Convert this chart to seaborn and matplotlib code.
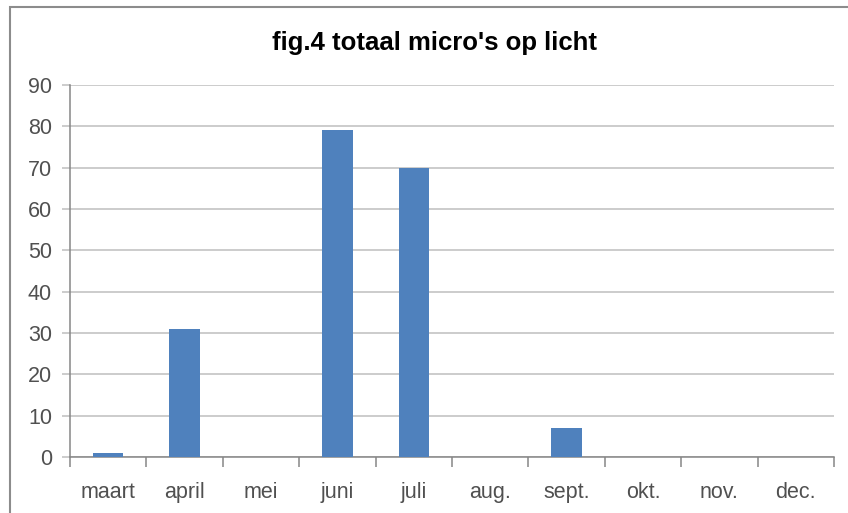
import matplotlib
matplotlib.use("Agg")
import matplotlib.pyplot as plt
import matplotlib.patches as patches
import seaborn as sns
import pandas as pd
import numpy as np

# data
months = ['maart', 'april', 'mei', 'juni', 'juli', 'aug.', 'sept.', 'okt.', 'nov.', 'dec.']
counts = [1, 31, 0, 79, 70, 0, 7, 0, 0, 0]
y_ticks = [0, 10, 20, 30, 40, 50, 60, 70, 80, 90]
title = "fig.4 totaal micro's op licht"

sns.set_style("white")
plt.rcParams['font.family'] = ['Liberation Sans', 'DejaVu Sans']

df = pd.DataFrame({'maand': months, 'aantal': counts})

fig = plt.figure(figsize=(8.48, 5.13), dpi=100)
ax = fig.add_axes([70 / 848, 1 - 457 / 513, (834 - 70) / 848, (457 - 85) / 513])

sns.barplot(data=df, x='maand', y='aantal', color='#4F81BD', saturation=1,
            width=0.4, linewidth=0, ax=ax, zorder=3)

ax.set_xlim(-0.5, len(months) - 0.5)
ax.set_ylim(0, 90)
ax.set_yticks(y_ticks)
ax.set_xlabel('')
ax.set_ylabel('')

# gridlines and axes like Excel
ax.yaxis.grid(True, color='#BFBFBF', linewidth=1.1, zorder=0)
ax.set_axisbelow(True)
for side in ['top', 'right']:
    ax.spines[side].set_visible(False)
ax.spines['left'].set_color('#868686')
ax.spines['bottom'].set_color('#868686')
ax.spines['left'].set_linewidth(1.1)
ax.spines['bottom'].set_linewidth(1.1)

# category ticks sit between the bars
ax.set_xticks(np.arange(len(months) + 1) - 0.5, minor=True)
ax.tick_params(axis='x', which='major', bottom=True, length=0, pad=18, labelsize=15.5,
               labelcolor='#505050')
ax.tick_params(axis='x', which='minor', bottom=True, length=7, width=1.1, color='#868686',
               direction='out')
ax.tick_params(axis='y', left=True, length=6, width=1.1, color='#BFBFBF', direction='out',
               pad=7, labelsize=15.5, labelcolor='#505050')

fig.text(434 / 848, 1 - 43 / 513, title, ha='center', va='center',
         fontsize=18.5, fontweight='bold', color='#000000')

# chart area border
border = patches.Rectangle((10 / 848, -0.05), 1.2, 1 - 7 / 513 + 0.05,
                           transform=fig.transFigure, fill=False,
                           edgecolor='#8C8C8C', linewidth=1.5, clip_on=False)
fig.patches.append(border)

fig.savefig('out.png', dpi=100)
